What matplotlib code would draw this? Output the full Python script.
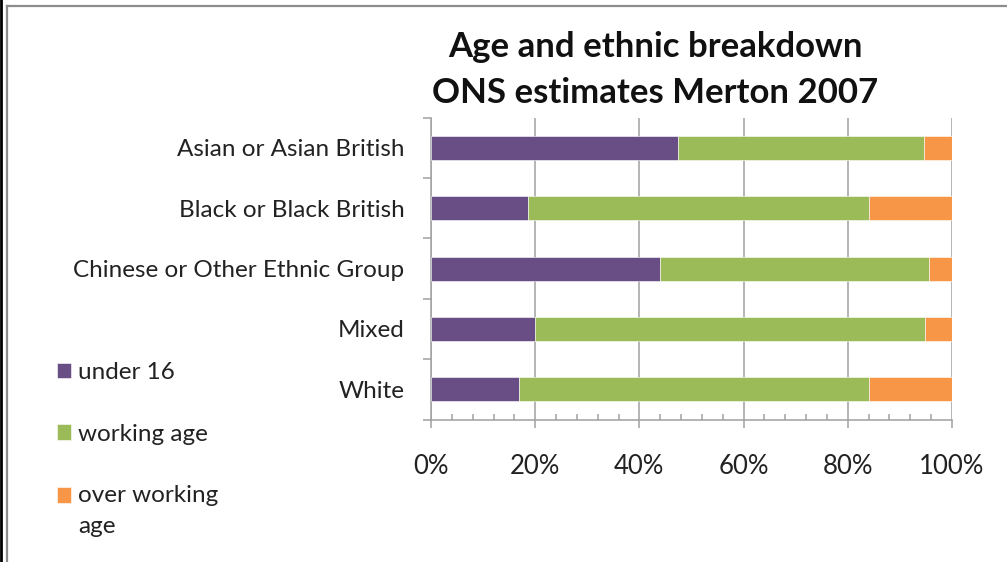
import numpy as np
import matplotlib.pyplot as plt
from matplotlib.lines import Line2D
from matplotlib.ticker import MultipleLocator, FuncFormatter

plt.rcParams['font.family'] = ['Lato', 'DejaVu Sans']

groups = ['Asian or Asian British', 'Black or Black British',
          'Chinese or Other Ethnic Group', 'Mixed', 'White']
under16 = [47.4, 18.7, 44.0, 19.9, 16.8]
working = [47.3, 65.4, 51.5, 75.0, 67.3]
over = [5.3, 15.9, 4.5, 5.1, 15.9]
series = ['under 16', 'working age', 'over working\nage']
colors = ['#684E85', '#9BBB59', '#F79646']

fig = plt.figure(figsize=(10.07, 5.62), dpi=100)
ax = fig.add_axes([431 / 1007, 1 - 419.5 / 562, 521 / 1007, 301.8 / 562])

y = np.arange(len(groups))
left = np.zeros(len(groups))
for vals, name, col in zip([under16, working, over], series, colors):
    ax.barh(y, vals, left=left, height=0.4, color=col, label=name,
            edgecolor='white', linewidth=0.4, zorder=3)
    left += np.array(vals)

ax.set_xlim(0, 100)
ax.set_ylim(len(groups) - 0.5, -0.5)

grey = '#A0A0A0'
ax.xaxis.set_major_locator(MultipleLocator(20))
ax.xaxis.set_minor_locator(MultipleLocator(4))
ax.xaxis.set_major_formatter(FuncFormatter(lambda v, p: f'{v:.0f}%'))
ax.grid(axis='x', which='major', color=grey, linewidth=1.1, zorder=0)
ax.tick_params(axis='x', which='major', direction='out', length=6, width=1.1,
               color=grey, labelsize=18.5, labelcolor='#222222', pad=19)
ax.tick_params(axis='x', which='minor', direction='in', length=4, width=1.1,
               color=grey)

ax.set_yticks(y)
ax.set_yticklabels(groups)
ax.set_yticks(np.arange(len(groups) + 1) - 0.5, minor=True)
ax.tick_params(axis='y', which='major', length=0, labelsize=17.5,
               labelcolor='#222222', pad=19)
ax.tick_params(axis='y', which='minor', direction='out', length=6, width=1.1,
               color=grey)

for s in ['top', 'right']:
    ax.spines[s].set_visible(False)
for s in ['left', 'bottom']:
    ax.spines[s].set_color(grey)
    ax.spines[s].set_linewidth(1.1)

fig.text(655 / 1007, 1 - 70 / 562,
         'Age and ethnic breakdown\nONS estimates Merton 2007',
         ha='center', va='center', fontsize=25, fontweight='bold',
         color='#111111', linespacing=1.55)

leg = fig.legend(loc='upper left', bbox_to_anchor=(57 / 1007, 1 - 362 / 562),
                 frameon=False, fontsize=17.5, handlelength=0.58,
                 handleheight=0.58, handletextpad=0.3, labelspacing=1.67,
                 borderpad=0, borderaxespad=0)
for t in leg.get_texts():
    t.set_color('#222222')
    t.set_linespacing(1.57)
# put the last square beside the first line of its two-line label
last = leg.legend_handles[-1]
last.set_y(last.get_y() + 11.5)

# frame lines of the original screenshot
fig.add_artist(Line2D([1 / 1007, 1 / 1007], [0, 1], color='black',
                      linewidth=2, transform=fig.transFigure))
fig.add_artist(Line2D([7 / 1007, 7 / 1007], [0, 1 - 6 / 562], color='#8C8C8C',
                      linewidth=1.6, transform=fig.transFigure))
fig.add_artist(Line2D([7 / 1007, 1], [1 - 6 / 562, 1 - 6 / 562], color='#8C8C8C',
                      linewidth=1.6, transform=fig.transFigure))

fig.savefig('out.png', dpi=100, facecolor='white')
